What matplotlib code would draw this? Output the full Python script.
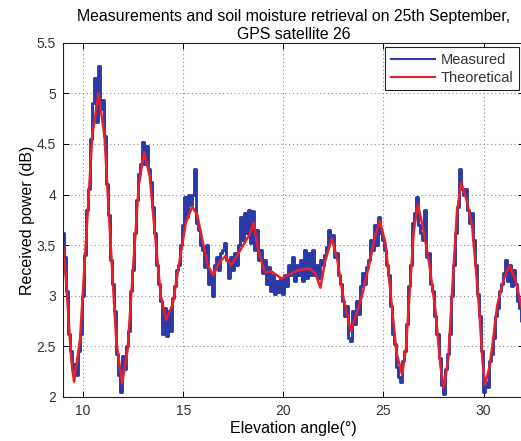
"""
Received power vs elevation angle, GPS satellite 26
"""

import matplotlib
matplotlib.use("Agg")

import matplotlib.pyplot as plt
import numpy as np
from matplotlib.ticker import FuncFormatter


# measured power, one sample every 0.1 deg starting at 9.0 deg
ELEV_START = 9.0
ELEV_STEP = 0.1

measured = [
    3.62, 3.38, 3.05, 2.62, 2.45, 2.28, 2.33, 2.22, 2.45, 2.62,   # 9
    3.00, 3.40, 3.85, 4.05, 4.55, 4.90, 5.15, 4.72, 5.27, 4.85,   # 10
    4.93, 4.58, 4.10, 3.80, 3.35, 3.12, 2.85, 2.42, 2.22, 2.05,   # 11
    2.40, 2.28, 2.50, 2.65, 3.05, 3.25, 3.62, 3.95, 4.20, 4.30,   # 12
    4.52, 4.30, 4.48, 4.25, 4.12, 3.88, 3.62, 3.30, 3.12, 2.95,   # 13
    2.62, 2.88, 2.60, 2.85, 2.65, 2.98, 3.10, 3.25, 3.30, 3.50,   # 14
    3.70, 3.98, 3.78, 4.00, 3.90, 4.00, 4.25, 3.72, 3.65, 3.50,   # 15
    3.45, 3.28, 3.50, 3.12, 3.22, 3.00, 3.30, 3.38, 3.25, 3.42,   # 16
    3.45, 3.52, 3.35, 3.18, 3.38, 3.25, 3.42, 3.30, 3.50, 3.78,   # 17
    3.55, 3.82, 3.62, 3.85, 3.52, 3.84, 3.45, 3.65, 3.35, 3.45,   # 18
    3.22, 3.35, 3.12, 3.28, 3.05, 3.20, 3.02, 3.15, 3.04, 3.18,   # 19
    3.02, 3.20, 3.10, 3.30, 3.20, 3.38, 3.15, 3.30, 3.20, 3.35,   # 20
    3.15, 3.45, 3.18, 3.42, 3.20, 3.45, 3.20, 3.30, 3.18, 3.35,   # 21
    3.30, 3.40, 3.48, 3.65, 3.55, 3.60, 3.38, 3.42, 3.20, 3.12,   # 22
    2.95, 2.80, 2.90, 2.58, 2.55, 2.85, 2.72, 2.95, 2.82, 3.10,   # 23
    3.22, 3.12, 3.28, 3.35, 3.55, 3.45, 3.70, 3.50, 3.78, 3.62,   # 24
    3.55, 3.45, 3.30, 3.20, 2.90, 2.62, 2.52, 2.30, 2.20, 2.15,   # 25
    2.35, 2.45, 2.72, 3.10, 3.30, 3.72, 3.82, 3.98, 3.70, 3.62,   # 26
    3.55, 3.85, 3.38, 3.42, 3.12, 3.05, 2.80, 2.62, 2.38, 2.12,   # 27
    2.03, 2.28, 2.42, 2.62, 3.00, 3.30, 3.62, 3.88, 4.25, 4.05,   # 28
    4.00, 4.05, 3.85, 3.72, 3.82, 3.55, 3.30, 3.02, 2.80, 2.45,   # 29
    2.05, 2.15, 2.10, 2.35, 2.42, 2.58, 2.80, 2.88, 3.05, 3.12,   # 30
    3.22, 3.35, 3.15, 3.30, 3.10, 3.25, 3.12, 2.95, 2.88, 2.75,   # 31
]

# theoretical model curve
theo_elev = [
    9.00, 9.15, 9.30, 9.42, 9.55, 9.85, 10.16, 10.46, 10.77,
    11.07, 11.36, 11.66, 11.95, 12.22, 12.50, 12.78, 13.05,
    13.33, 13.60, 13.88, 14.15, 14.48, 14.80, 15.13, 15.45,
    15.70, 15.97, 16.23, 16.50, 16.80, 17.10, 17.40, 17.70,
    18.00, 18.30, 18.52, 18.75, 19.00, 19.10, 19.40, 19.70,
    19.90, 20.30, 20.70, 21.00, 21.30, 21.60, 21.85, 22.10,
    22.43, 22.70, 23.00, 23.38, 23.70, 23.93, 24.35, 24.60,
    24.82, 25.10, 25.38, 25.65, 25.93, 26.12, 26.32, 26.52,
    26.72, 27.00, 27.30, 27.60, 27.85, 28.02, 28.24, 28.45,
    28.67, 28.88, 29.15, 29.43, 29.60, 29.77, 29.95, 30.08,
    30.30, 30.50, 30.68, 31.00, 31.30, 31.60, 32.00,
]
theo_power = [
    3.50, 3.15, 2.70, 2.35, 2.15, 2.57, 3.58, 4.58, 5.00,
    4.58, 3.57, 2.55, 2.13, 2.46, 3.28, 4.09, 4.42,
    4.18, 3.59, 3.00, 2.76, 2.92, 3.32, 3.72, 3.88,
    3.80, 3.54, 3.30, 3.20, 3.33, 3.39, 3.30, 3.40,
    3.50, 3.60, 3.72, 3.45, 3.28, 3.23, 3.24, 3.20,
    3.17, 3.21, 3.25, 3.26, 3.27, 3.22, 3.08, 3.35,
    3.57, 3.35, 2.98, 2.65, 2.85, 3.00, 3.36, 3.60,
    3.74, 3.52, 2.98, 2.44, 2.22, 2.47, 3.06, 3.65,
    3.90, 3.65, 3.30, 2.85, 2.30, 2.09, 2.38, 3.10,
    3.82, 4.12, 3.95, 3.69, 3.30, 2.90, 2.35, 2.12,
    2.30, 2.60, 2.90, 3.16, 3.30, 3.15, 2.80,
]

X_TICKS = [10, 15, 20, 25, 30]
Y_TICKS = [2, 2.5, 3, 3.5, 4, 4.5, 5, 5.5]


def main():
    plt.rcParams["font.family"] = ["Liberation Sans", "DejaVu Sans"]

    elev = np.round(ELEV_START + ELEV_STEP * np.arange(len(measured)), 2)

    fig = plt.figure(figsize=(5.21, 4.41), dpi=100)
    ax = fig.add_axes([0.121, 0.100, 0.884, 0.803])

    ax.plot(elev, measured, color="#2b3aa6", linewidth=2.1,
            drawstyle="steps-mid", label="Measured")
    ax.plot(theo_elev, theo_power, color="#e8202a", linewidth=1.8,
            label="Theoretical")

    ax.set_xlim(9, 32)
    ax.set_ylim(2, 5.5)
    ax.set_xticks(X_TICKS)
    ax.set_yticks(Y_TICKS)
    ax.yaxis.set_major_formatter(FuncFormatter(lambda v, p: f"{v:g}"))

    ax.grid(True, color="#8c8c8c", linestyle=(0, (1, 2.5)), linewidth=0.8)
    ax.tick_params(direction="in", length=4, width=0.7, top=True,
                   right=True, labelsize=10, labelcolor="#333333",
                   pad=5)
    for side in ax.spines.values():
        side.set_linewidth(0.8)
        side.set_color("#222222")

    ax.set_title("Measurements and soil moisture retrieval on 25th September,\n"
                 "GPS satellite 26", fontsize=11.4, color="#000000",
                 linespacing=1.2, pad=3)
    ax.set_xlabel("Elevation angle(\u00b0)", fontsize=11.5, labelpad=2)
    ax.set_ylabel("Received power (dB)", fontsize=11.5, labelpad=1)

    leg = ax.legend(loc="upper right", fontsize=10.5, fancybox=False,
                    framealpha=1, edgecolor="#222222", handlelength=3.0,
                    handletextpad=0.4, borderaxespad=0.3,
                    labelspacing=0.25, bbox_to_anchor=(1.0, 1.0))
    leg.get_frame().set_linewidth(0.8)
    for line in leg.get_lines():
        line.set_linewidth(1.5)
    for text in leg.get_texts():
        text.set_color("#333333")

    fig.savefig("out.png", dpi=100)


if __name__ == "__main__":
    main()
